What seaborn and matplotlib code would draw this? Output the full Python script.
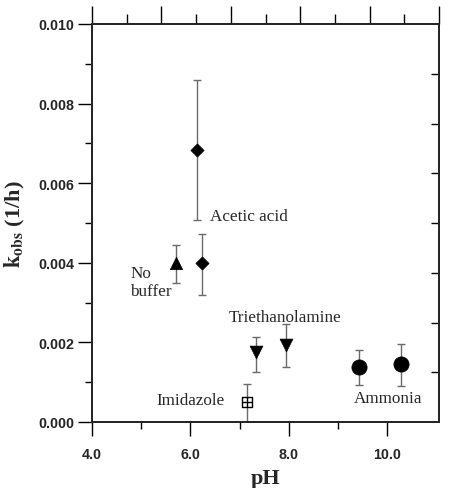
import matplotlib
matplotlib.use("Agg")
import matplotlib.pyplot as plt
import seaborn as sns
import pandas as pd
import numpy as np

# data
buffers = ["No buffer", "Acetic acid", "Acetic acid", "Triethanolamine", "Triethanolamine",
           "Imidazole", "Ammonia", "Ammonia"]
ph = [5.71, 6.14, 6.24, 7.33, 7.94, 7.14, 9.43, 10.27]
kobs = [0.00400, 0.00683, 0.00400, 0.00175, 0.00193, 0.00050, 0.00137, 0.00145]
err_low = [0.00348, 0.00507, 0.00320, 0.00125, 0.00138, 0.00000, 0.00093, 0.00090]
err_high = [0.00445, 0.00860, 0.00473, 0.00213, 0.00245, 0.00095, 0.00180, 0.00197]

labels = ["No\nbuffer", "Acetic acid", "Triethanolamine", "Imidazole", "Ammonia"]
label_pos = [(4.78, 0.00351), (6.39, 0.00518), (6.78, 0.00265), (5.31, 0.00055), (9.31, 0.0006)]

df = pd.DataFrame({"buffer": buffers, "pH": ph, "kobs": kobs})

sns.set_theme(style="ticks")
plt.rcParams["font.family"] = ["Liberation Serif", "DejaVu Serif"]
plt.rcParams["mathtext.fontset"] = "stix"

fig = plt.figure(figsize=(4.49, 4.89), dpi=100)
ax = fig.add_axes([92/449, 1-423/489, (439-92)/449, (423-25)/489])

# error bars
for x, y, lo, hi in zip(ph, kobs, err_low, err_high):
    ax.errorbar([x], [y], yerr=[[y-lo], [hi-y]], fmt="none", ecolor="#6a6a6a",
                elinewidth=1.0, capsize=3.2, capthick=1.0, zorder=2)

markers = {"No buffer": "^", "Acetic acid": "D", "Triethanolamine": "v",
           "Imidazole": "s", "Ammonia": "o"}
sizes = {"No buffer": 80, "Acetic acid": 45, "Triethanolamine": 85,
         "Imidazole": 55, "Ammonia": 120}
for b, sub in df.groupby("buffer", sort=False):
    if b == "Imidazole":
        sns.scatterplot(data=sub, x="pH", y="kobs", marker="s", s=sizes[b],
                        facecolor="white", edgecolor="black", linewidth=1.0, ax=ax, zorder=3)
        sns.scatterplot(data=sub, x="pH", y="kobs", marker="+", s=sizes[b]*0.95,
                        color="black", linewidth=1.0, ax=ax, zorder=4)
    else:
        sns.scatterplot(data=sub, x="pH", y="kobs", marker=markers[b], s=sizes[b],
                        color="black", edgecolor="black", linewidth=0.5, ax=ax, zorder=3)

for t, (x, y) in zip(labels, label_pos):
    ax.text(x, y, t, fontsize=12.3, family=["Liberation Serif"], va="center", ha="left",
            linespacing=1.15)

ax.set_xlim(4.0, 11.05)
ax.set_ylim(0.0, 0.010)
ax.set_xticks([4, 6, 8, 10])
ax.set_xticklabels(["4.0", "6.0", "8.0", "10.0"])
ax.set_xticks([5, 7, 9], minor=True)
ax.set_yticks([0, 0.002, 0.004, 0.006, 0.008, 0.010])
ax.set_yticklabels(["0.000", "0.002", "0.004", "0.006", "0.008", "0.010"])
ax.set_yticks([0.001, 0.003, 0.005, 0.007, 0.009], minor=True)
for lab in ax.get_xticklabels() + ax.get_yticklabels():
    lab.set_family(["Liberation Sans"])
    lab.set_fontweight("bold")
    lab.set_fontsize(10.3)
ax.tick_params(which="major", direction="out", length=10, width=1.0, color="black", pad=3)
ax.tick_params(which="minor", direction="out", length=5, width=1.0, color="black")
ax.tick_params(axis="x", which="major", pad=8)

for s in ax.spines.values():
    s.set_linewidth(1.2)
    s.set_color("black")

ax.set_xlabel("pH", fontsize=16, fontweight="bold", family=["Liberation Serif"], labelpad=5)
ax.set_ylabel(r"$\mathbf{k_{obs}}$ (1/h)", fontsize=16, fontweight="bold",
              family=["Liberation Serif"], labelpad=8)

# top axis ticks
axt = ax.twiny()
axt.set_xlim(0, 10)
axt.set_xticks([0, 2, 4, 6, 8, 10])
axt.set_xticks([1, 3, 5, 7, 9], minor=True)
axt.set_xticklabels([])
axt.tick_params(which="major", direction="out", length=13, width=1.0, color="black")
axt.tick_params(which="minor", direction="out", length=7, width=1.0, color="black")
# right axis ticks
axr = ax.twinx()
axr.set_ylim(0, 0.010)
axr.set_yticks([0.00125 * k for k in range(1, 8)])
axr.set_yticklabels([])
axr.tick_params(direction="in", length=6, width=1.0, color="black")
axr.grid(False)
axt.grid(False)
ax.grid(False)

fig.savefig("out.png", dpi=100)
